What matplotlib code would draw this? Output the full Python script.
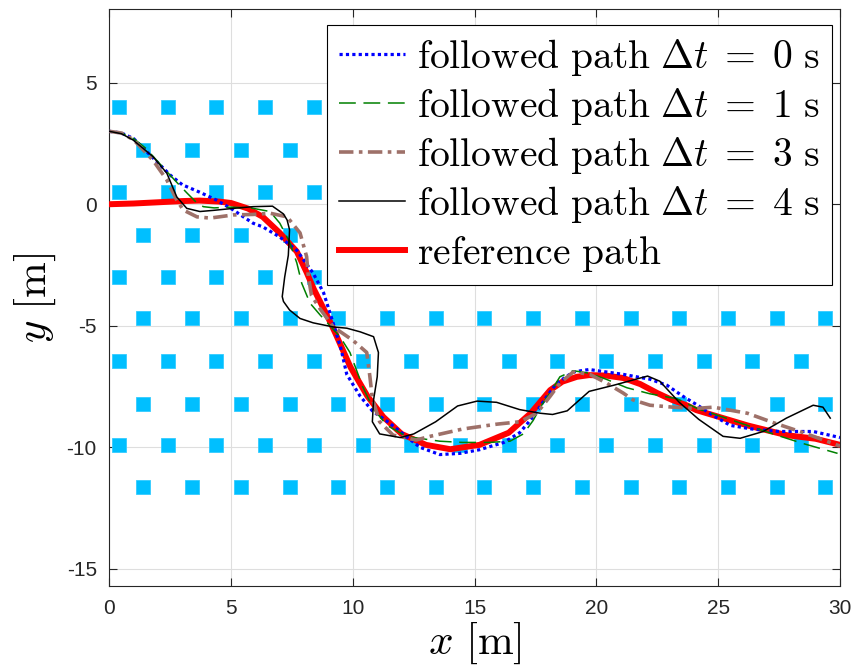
import matplotlib
matplotlib.use("Agg")
import matplotlib.pyplot as plt

plt.rcParams['mathtext.fontset'] = 'cm'
plt.rcParams['axes.unicode_minus'] = False

# obstacle lattice (rows alternate between two column sets)
obs_row_y = [4.0, 2.25, 0.5, -1.25, -3.0, -4.7, -6.45, -8.2, -9.9, -11.65]
obs_x_even = [0.4, 2.4, 4.4, 6.4, 8.4, 10.4, 12.4, 14.4, 16.4, 18.4, 20.4, 22.4, 24.4, 26.4, 28.4]
obs_x_odd = [1.4, 3.4, 5.4, 7.4, 9.4, 11.4, 13.4, 15.4, 17.4, 19.4, 21.4, 23.4, 25.4, 27.4, 29.4]

# reference path
ref_x = [0, 1, 2, 3, 3.7, 4.5, 5.0, 5.7, 6.3, 7.0, 7.7, 8.1, 8.4, 9.0, 9.3, 9.9, 10.6, 11.25,
         12.0, 13.0, 14.0, 15.2, 16.4, 17.3, 18.1, 18.6, 19.2, 19.7, 20.4, 21.1, 21.8, 22.5,
         23.1, 23.7, 24.1, 25.2, 26.2, 27.0, 27.8, 29.0, 30]
ref_y = [0, 0.03, 0.08, 0.13, 0.15, 0.11, 0.05, -0.18, -0.52, -1.18, -1.95, -2.8, -3.5, -4.7,
         -5.35, -6.7, -7.9, -8.75, -9.45, -9.9, -10.08, -9.9, -9.4, -8.6, -7.65, -7.3, -7.1,
         -7.03, -7.05, -7.15, -7.4, -7.77, -8.05, -8.27, -8.47, -8.8, -9.1, -9.3, -9.5, -9.65, -9.9]

# followed path dt = 0 s
p0_x = [0, 0.5, 1.0, 1.5, 2.0, 2.5, 3.0, 3.7, 4.4, 5.1, 5.4, 5.9, 6.3, 7.0, 7.7, 8.37, 8.8, 9.06,
        9.5, 9.75, 10.3, 10.8, 11.5, 12.0, 12.75, 13.57, 14.4, 15.2, 16.2, 16.85, 17.4, 17.95,
        18.37, 19.05, 19.7, 21.1, 22.2, 22.9, 23.55, 24.2, 24.8, 25.5, 26.4, 27.5, 28.9, 30]
p0_y = [3.0, 2.93, 2.7, 2.2, 1.7, 1.2, 0.8, 0.5, 0.17, -0.24, -0.45, -0.78, -0.93, -1.35, -1.9,
        -2.84, -3.65, -4.47, -5.9, -7.0, -7.9, -8.5, -9.0, -9.4, -10.0, -10.3, -10.25, -10.1,
        -9.8, -9.4, -8.75, -7.93, -7.36, -6.9, -6.8, -7.0, -7.2, -7.45, -7.9, -8.3, -8.7, -9.1,
        -9.25, -9.35, -9.35, -9.6]

# followed path dt = 1 s
p1_x = [0, 0.5, 1.0, 1.5, 1.95, 2.4, 2.8, 3.2, 3.6, 3.86, 4.3, 5.0, 5.8, 6.6, 7.0, 7.4, 7.7, 7.9,
        8.24, 8.65, 9.47, 9.88, 10.4, 10.83, 11.4, 12.2, 12.5, 13.57, 14.5, 15.6, 16.45, 17.0,
        17.4, 17.7, 18.1, 18.5, 19.05, 19.7, 20.4, 21.25, 22.2, 23.3, 24.2, 25.2, 26.2, 27.4,
        28.5, 29.9]
p1_y = [3.0, 2.93, 2.7, 2.3, 1.8, 1.3, 0.87, 0.45, 0.05, -0.1, -0.15, -0.12, -0.15, -0.3, -0.78,
        -1.55, -2.42, -3.25, -4.07, -4.55, -5.45, -6.1, -7.5, -8.4, -9.1, -9.55, -9.6, -9.75,
        -9.8, -9.8, -9.75, -9.45, -8.9, -8.35, -7.75, -7.1, -6.85, -6.95, -7.2, -7.55, -7.8,
        -8.0, -8.43, -8.76, -9.1, -9.5, -9.85, -10.25]

# followed path dt = 3 s
p3_x = [0, 0.5, 1.0, 1.8, 2.36, 2.77, 3.04, 3.6, 4.14, 5.09, 5.9, 6.6, 7.3, 7.83, 8.1, 8.17, 8.3,
        8.65, 9.2, 10.0, 10.57, 10.7, 10.8, 11.1, 11.65, 12.6, 13.17, 14.5, 15.9, 16.85, 17.55,
        18.1, 18.5, 19.05, 19.73, 20.4, 21.1, 21.5, 22.2, 23.15, 24.1, 24.8, 26.2, 27.3, 28.5, 30]
p3_y = [3.0, 2.93, 2.65, 1.8, 1.0, 0.17, -0.24, -0.52, -0.57, -0.44, -0.42, -0.37, -0.52, -1.18,
        -2.15, -2.95, -3.75, -4.3, -5.05, -5.6, -6.1, -7.1, -8.0, -8.95, -9.5, -9.7, -9.55,
        -9.25, -9.05, -8.95, -8.6, -7.9, -7.36, -6.9, -7.0, -7.35, -7.77, -8.05, -8.27, -8.35,
        -8.4, -8.35, -8.6, -9.0, -9.4, -9.95]

# followed path dt = 4 s
p4_x = [0, 0.5, 0.98, 1.8, 2.36, 2.77, 3.18, 3.72, 4.3, 5.1, 5.9, 6.7, 7.15, 7.3, 7.4, 7.35, 7.2,
        7.1, 7.15, 7.4, 7.83, 8.37, 9.2, 9.75, 10.3, 10.85, 11.05, 11.0, 10.85, 10.8, 11.1, 11.95,
        12.5, 13.4, 14.3, 15.1, 15.9, 16.85, 17.7, 18.2, 18.8, 19.7, 20.7, 21.8, 22.1, 22.6, 23.4,
        24.2, 25.2, 25.9, 26.85, 27.8, 28.9, 29.3, 29.6]
p4_y = [3.0, 2.9, 2.64, 1.95, 1.28, 0.3, -0.17, -0.3, -0.25, -0.17, -0.1, -0.08, -0.4, -0.65,
        -1.05, -2.1, -3.0, -3.8, -4.0, -4.35, -4.7, -4.88, -5.05, -5.1, -5.25, -5.45, -6.1, -7.1,
        -8.05, -8.95, -9.45, -9.6, -9.45, -8.95, -8.3, -8.1, -8.15, -8.45, -8.6, -8.65, -8.5,
        -7.7, -7.45, -7.15, -7.07, -7.28, -8.15, -8.85, -9.55, -9.63, -9.35, -8.8, -8.27, -8.35,
        -8.8]

fig = plt.figure(figsize=(8.52, 6.69), dpi=100)
ax = fig.add_axes([0.1283, 0.1236, 0.8576, 0.8625])

# obstacles
for i, yy in enumerate(obs_row_y):
    xs = obs_x_even if i % 2 == 0 else obs_x_odd
    ax.plot(xs, [yy] * len(xs), linestyle='none', marker='s', markersize=10.5,
            markerfacecolor='#00BFFF', markeredgecolor='#33CCFF', markeredgewidth=0.6, zorder=2)

h_ref, = ax.plot(ref_x, ref_y, color='#FF0000', lw=4.3, zorder=3)
h0, = ax.plot(p0_x, p0_y, color='#0000FF', lw=2.3, linestyle=(0, (1, 1)), zorder=4)
h1, = ax.plot(p1_x, p1_y, color='#008000', lw=1.1, linestyle=(0, (11, 5)), zorder=4)
h3, = ax.plot(p3_x, p3_y, color='#9E7169', lw=2.6, linestyle=(0, (4, 1.5, 1, 1.5)), zorder=4)
h4, = ax.plot(p4_x, p4_y, color='black', lw=1.1, zorder=5)

ax.set_xlim(0, 30)
ax.set_ylim(-15.72, 8.02)
ax.set_xticks([0, 5, 10, 15, 20, 25, 30])
ax.set_yticks([-15, -10, -5, 0, 5])
ax.grid(True, color='#DEDEDE', lw=0.8)
ax.set_axisbelow(True)
ax.tick_params(direction='in', length=5.5, width=0.8, top=True, right=True,
               colors='#262626', labelsize=15, pad=9)
for lab in ax.get_xticklabels() + ax.get_yticklabels():
    lab.set_fontfamily('Liberation Sans')
for sp in ax.spines.values():
    sp.set_color('#262626')
    sp.set_linewidth(0.8)

ax.set_xlabel(r'$x\ [\mathrm{m}]$', fontsize=31, labelpad=2)
ax.set_ylabel(r'$y\ [\mathrm{m}]$', fontsize=31, labelpad=6)

labels = [r'$\mathrm{followed\ path}\ \Delta t\;=\;0\ \mathrm{s}$',
          r'$\mathrm{followed\ path}\ \Delta t\;=\;1\ \mathrm{s}$',
          r'$\mathrm{followed\ path}\ \Delta t\;=\;3\ \mathrm{s}$',
          r'$\mathrm{followed\ path}\ \Delta t\;=\;4\ \mathrm{s}$',
          r'$\mathrm{reference\ path}$']
leg = ax.legend([h0, h1, h3, h4, h_ref], labels, loc='upper right',
                bbox_to_anchor=(0.9886, 0.9728), borderaxespad=0, fontsize=28.5,
                fancybox=False, framealpha=1, edgecolor='black', handlelength=1.67,
                handletextpad=0.3, labelspacing=0.2, borderpad=0.3)
leg.get_frame().set_linewidth(0.8)

fig.savefig('out.png', dpi=100)
